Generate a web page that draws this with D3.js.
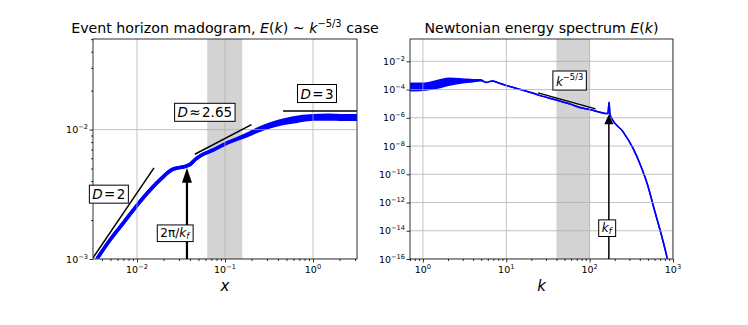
<!DOCTYPE html>
<html>
<head>
<meta charset="utf-8">
<script src="https://cdn.jsdelivr.net/npm/d3@7"></script>
<style>
  body { margin: 0; background: #fff; }
  svg { font-family: "DejaVu Sans", sans-serif; }
  text { white-space: pre; }
</style>
</head>
<body>
<svg id="chart" width="748" height="325"></svg>
<script>
(function () {
  "use strict";

  // --- left panel: madogram ---
  const madX = [0.0035, 0.005, 0.007, 0.01, 0.014, 0.019, 0.025, 0.03, 0.0355, 0.0404, 0.0462, 0.055, 0.0716, 0.102, 0.172, 0.267, 0.414, 0.6, 1.0, 1.5, 2.2, 3.2];
  const madLo = [0.001, 0.00142, 0.0019, 0.0026, 0.0034, 0.0042, 0.0049, 0.00508, 0.0052, 0.0054, 0.0059, 0.0064, 0.0069, 0.0078, 0.0089, 0.0101, 0.011, 0.0115, 0.0121, 0.0121, 0.012, 0.012];
  const madHi = [0.001, 0.00142, 0.0019, 0.0026, 0.0034, 0.0042, 0.0049, 0.00508, 0.0052, 0.0054, 0.0059, 0.0064, 0.0069, 0.0078, 0.0091, 0.0105, 0.0116, 0.0123, 0.0128, 0.0129, 0.0128, 0.0128];

  // --- right panel: energy spectrum ---
  const specK = [0.7, 1.0, 1.5, 2.1, 3, 4, 4.9, 5.8, 6.8, 8, 10, 14, 21, 24, 40, 60, 76, 100, 140, 160, 166, 171, 175, 182, 251, 331, 410, 495, 600, 725, 850, 900];
  const specHi = [2.8e-4, 2.8e-4, 4.4e-4, 6.3e-4, 5.6e-4, 4.9e-4, 4.9e-4, 3.2e-4, 4.1e-4, 3.0e-4, 1.95e-4, 1.1e-4, 5.5e-5, 4.2e-5, 1.8e-5, 8.9e-6, 5.4e-6, 3.9e-6, 2.3e-6, 2.0e-6, 2.1e-6, 1.26e-5, 1.9e-6, 1.05e-6, 1.05e-7, 7.1e-9, 4.0e-10, 1.8e-11, 2.8e-13, 5.2e-15, 1.2e-16, 2.5e-17];
  const specLo = [8.3e-5, 8.9e-5, 1.3e-4, 2.1e-4, 3.0e-4, 3.5e-4, 4.2e-4, 3.2e-4, 4.1e-4, 3.0e-4, 1.95e-4, 1.1e-4, 5.5e-5, 4.2e-5, 1.8e-5, 8.9e-6, 5.4e-6, 3.9e-6, 2.3e-6, 2.0e-6, 2.1e-6, 1.26e-5, 1.9e-6, 1.05e-6, 1.05e-7, 7.1e-9, 4.0e-10, 1.8e-11, 2.8e-13, 5.2e-15, 1.2e-16, 2.5e-17];

  const kf = 170;
  const inertialBand = [40, 100];               // k range shaded in both panels
  const madBand = [2 * Math.PI / inertialBand[1], 2 * Math.PI / inertialBand[0]];

  // reference slopes [x0, y0, x1, y1]
  const refD2 = [0.00316, 0.00102, 0.0156, 0.00506];
  const refD265 = [0.0454, 0.00645, 0.2, 0.01093];
  const refD3 = [0.457, 0.0139, 3.2, 0.0139];
  const refK53 = [24, 5.8e-5, 118, 4.3e-6];

  const leftXTicks = [-2, -1, 0];
  const leftYTicks = [-3, -2];
  const rightXTicks = [0, 1, 2, 3];
  const rightYTicks = [-16, -14, -12, -10, -8, -6, -4, -2];

  const svg = d3.select("#chart");

  function rich(g, x, y, parts, size, anchor) {
    const t = g.append("text")
      .attr("x", x).attr("y", y)
      .attr("font-size", size)
      .attr("text-anchor", anchor || "middle");
    let shift = 0;
    parts.forEach((p) => {
      const s = Array.isArray(p) ? p[0] : p;
      const kind = Array.isArray(p) ? p[1] : "";
      const sp = t.append("tspan").text(s);
      let target = 0;
      if (kind.indexOf("sup") >= 0) { target = -size * 0.42; sp.attr("font-size", size * 0.7); }
      if (kind.indexOf("sub") >= 0) { target = size * 0.22; sp.attr("font-size", size * 0.7); }
      if (kind.indexOf("i") === 0) sp.attr("font-style", "italic");
      sp.attr("dy", target - shift);
      shift = target;
    });
    return t;
  }

  function boxed(g, x, y, parts, size) {
    const t = rich(g, x, y, parts, size, "middle").attr("dominant-baseline", "central");
    const b = t.node().getBBox();
    g.insert("rect", () => t.node())
      .attr("x", b.x - 3).attr("y", b.y - 1)
      .attr("width", b.width + 6).attr("height", b.height + 2)
      .attr("fill", "#fff").attr("stroke", "#000").attr("stroke-width", 1);
    return t;
  }

  function minors(lo, hi) {
    const out = [];
    for (let e = Math.floor(Math.log10(lo)); e <= Math.ceil(Math.log10(hi)); e++) {
      for (let m = 2; m <= 9; m++) {
        const v = m * Math.pow(10, e);
        if (v >= lo * 0.999 && v <= hi * 1.001) out.push(v);
      }
    }
    return out;
  }

  function panel(opt) {
    const x = d3.scaleLog().domain(opt.xDomain).range([opt.left, opt.right]);
    const y = d3.scaleLog().domain(opt.yDomain).range([opt.bottom, opt.top]);
    const g = svg.append("g");

    const clipId = "clip-" + opt.id;
    g.append("clipPath").attr("id", clipId).append("rect")
      .attr("x", opt.left).attr("y", opt.top)
      .attr("width", opt.right - opt.left).attr("height", opt.bottom - opt.top);

    const plot = g.append("g").attr("clip-path", `url(#${clipId})`);

    // shaded inertial range
    plot.append("rect")
      .attr("x", x(opt.band[0])).attr("y", opt.top)
      .attr("width", x(opt.band[1]) - x(opt.band[0]))
      .attr("height", opt.bottom - opt.top)
      .attr("fill", "#d3d3d3");

    // data band + line
    const pts = opt.xs.map((v, i) => ({ x: v, lo: opt.lo[i], hi: opt.hi[i] }));
    plot.append("path").datum(pts)
      .attr("d", d3.area().x((d) => x(d.x)).y0((d) => y(d.lo)).y1((d) => y(d.hi)).curve(d3.curveMonotoneX))
      .attr("fill", "#0000ff");
    plot.append("path").datum(pts)
      .attr("d", d3.line().x((d) => x(d.x)).y((d) => y(d.lo)).curve(d3.curveMonotoneX))
      .attr("fill", "none").attr("stroke", "#0000ff").attr("stroke-width", opt.lw);
    plot.append("path").datum(pts)
      .attr("d", d3.line().x((d) => x(d.x)).y((d) => y(d.hi)).curve(d3.curveMonotoneX))
      .attr("fill", "none").attr("stroke", "#0000ff").attr("stroke-width", opt.lw);

    // grid on top
    const grid = plot.append("g").attr("stroke", "#b0b0b0").attr("stroke-width", 0.9).attr("opacity", 0.85);
    opt.xTicks.forEach((e) => {
      const px = x(Math.pow(10, e));
      grid.append("line").attr("x1", px).attr("x2", px).attr("y1", opt.top).attr("y2", opt.bottom);
    });
    opt.yTicks.forEach((e) => {
      const py = y(Math.pow(10, e));
      grid.append("line").attr("x1", opt.left).attr("x2", opt.right).attr("y1", py).attr("y2", py);
    });

    // reference slope lines
    opt.refs.forEach((r) => {
      plot.append("line")
        .attr("x1", x(r[0])).attr("y1", y(r[1]))
        .attr("x2", x(r[2])).attr("y2", y(r[3]))
        .attr("stroke", "#000").attr("stroke-width", 1.5);
    });

    // frame
    g.append("rect")
      .attr("x", opt.left).attr("y", opt.top)
      .attr("width", opt.right - opt.left).attr("height", opt.bottom - opt.top)
      .attr("fill", "none").attr("stroke", "#333").attr("stroke-width", 1);

    // axes
    g.append("g").attr("transform", `translate(0,${opt.bottom})`)
      .call(d3.axisBottom(x).tickValues(opt.xTicks.map((e) => Math.pow(10, e))).tickSize(3.5).tickFormat(""))
      .call((a) => a.select(".domain").remove());
    g.append("g").attr("transform", `translate(0,${opt.bottom})`)
      .call(d3.axisBottom(x).tickValues(minors(opt.xDomain[0], opt.xDomain[1])).tickSize(2).tickFormat(""))
      .call((a) => a.select(".domain").remove());
    g.append("g").attr("transform", `translate(${opt.left},0)`)
      .call(d3.axisLeft(y).tickValues(opt.yTicks.map((e) => Math.pow(10, e))).tickSize(3.5).tickFormat(""))
      .call((a) => a.select(".domain").remove());
    if (opt.yMinor) {
      g.append("g").attr("transform", `translate(${opt.left},0)`)
        .call(d3.axisLeft(y).tickValues(minors(opt.yDomain[0], opt.yDomain[1])).tickSize(2).tickFormat(""))
        .call((a) => a.select(".domain").remove());
    }
    g.selectAll(".tick line").attr("stroke", "#000").attr("stroke-width", 0.8);

    const lbl = g.append("g").attr("fill", "#000");
    opt.xTicks.forEach((e) => {
      rich(lbl, x(Math.pow(10, e)), opt.bottom + 14, ["10", [e < 0 ? "\u2212" + (-e) : String(e), "sup"]], 9.5, "middle");
    });
    opt.yTicks.forEach((e) => {
      rich(lbl, opt.left - 5, y(Math.pow(10, e)) + 3.5, ["10", [e < 0 ? "\u2212" + (-e) : String(e), "sup"]], 9.5, "end");
    });

    // title and x label
    rich(g, (opt.left + opt.right) / 2, 33, opt.title, 14.2, "middle");
    rich(g, (opt.left + opt.right) / 2, 291, [[opt.xLabel, "i"]], 15, "middle");

    return { g, x, y, plot };
  }

  function arrow(p, xv, yTip, shaftW, headW, headH) {
    const px = p.x(xv), tip = p.y(yTip);
    p.g.append("line")
      .attr("x1", px).attr("x2", px)
      .attr("y1", tip + headH - 1).attr("y2", p.y.range()[0])
      .attr("stroke", "#000").attr("stroke-width", shaftW);
    p.g.append("path")
      .attr("d", `M${px},${tip}L${px - headW / 2},${tip + headH}L${px + headW / 2},${tip + headH}Z`)
      .attr("fill", "#000");
  }

  const L = panel({
    id: "mad", left: 93, right: 357, top: 39, bottom: 259,
    xDomain: [Math.pow(10, -2.5), Math.pow(10, 0.5)], yDomain: [1e-3, Math.pow(10, -1.3)],
    xs: madX, lo: madLo, hi: madHi, lw: 3.5, band: madBand,
    xTicks: leftXTicks, yTicks: leftYTicks, yMinor: true,
    refs: [refD2, refD265, refD3],
    title: ["Event horizon madogram, ", ["E", "i"], "(", ["k", "i"], ") ~ ", ["k", "i"], ["\u22125/3", "sup"], " case"],
    xLabel: "x"
  });

  const R = panel({
    id: "spec", left: 410, right: 673, top: 39, bottom: 259,
    xDomain: [0.7, 1000], yDomain: [1e-16, Math.pow(10, -0.42)],
    xs: specK, lo: specLo, hi: specHi, lw: 1.5, band: inertialBand,
    xTicks: rightXTicks, yTicks: rightYTicks, yMinor: false,
    refs: [refK53],
    title: ["Newtonian energy spectrum ", ["E", "i"], "(", ["k", "i"], ")"],
    xLabel: "k"
  });

  arrow(L, 2 * Math.PI / kf, 0.00506, 2.2, 10, 15);
  arrow(R, kf, 1.8e-6, 1.5, 9, 10);

  // text boxes, positioned in data coordinates
  boxed(L.g, L.x(0.00479), L.y(0.00317), [["D", "i"], "\u200a=\u200a2"], 13.5);
  boxed(L.g, L.x(0.059), L.y(0.0136), [["D", "i"], "\u200a\u2248\u200a2.65"], 13.5);
  boxed(L.g, L.x(1.11), L.y(0.019), [["D", "i"], "\u200a=\u200a3"], 13.5);
  boxed(L.g, L.x(0.0268), L.y(0.00159), ["2\u03c0/", ["k", "i"], ["f", "isub"]], 12);
  boxed(R.g, R.x(57.5), R.y(3.4e-4), [["k", "i"], ["\u22125/3", "sup"]], 12);
  boxed(R.g, R.x(160), R.y(1.6e-14), [["k", "i"], ["f", "isub"]], 12);
})();
</script>
</body>
</html>
